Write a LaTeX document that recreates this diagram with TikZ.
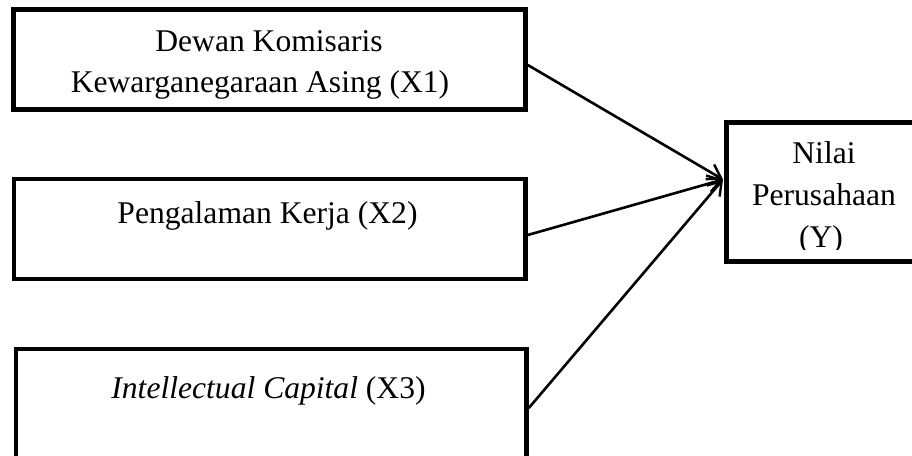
\documentclass[tikz,border=0pt]{standalone}
\usepackage{fontspec}
\setmainfont{Liberation Serif}
\usetikzlibrary{arrows.meta}
\tikzset{
  box/.style={draw=black, line width=4.6pt, rectangle, inner sep=0pt, outer sep=0pt},
  lbl/.style={anchor=base, inner sep=0pt, font=\fontsize{31.6}{41}\selectfont},
  conn/.style={line width=2.6pt, -{Straight Barb[length=13pt,width=17pt,line width=2.4pt]}}
}
\begin{document}
\begin{tikzpicture}[x=1pt,y=-1pt]
\useasboundingbox[fill=white] (0,0) rectangle (912,455);
\clip (0,0) rectangle (912,455);
% boxes
\node[box, minimum width=512pt, minimum height=100pt] (b1) at (269.5,59.5) {};
\node[box, minimum width=511.5pt, minimum height=100pt] (b2) at (269.75,229) {};
\node[box, minimum width=510.5pt, minimum height=112pt] (b3) at (271.25,405) {};
\node[box, minimum width=240pt, minimum height=139pt] (yb) at (846.5,192) {};
% texts
\node[lbl] (t1a) at (269,51) {Dewan Komisaris};
\node[lbl] (t1b) at (260,92) {Kewarganegaraan Asing (X1)};
\node[lbl] (t2) at (267.5,223) {Pengalaman Kerja (X2)};
\node[lbl] (t3) at (268.5,398) {\textit{Intellectual Capital} (X3)};
\begin{scope}
\clip (728.8,124.8) rectangle (912,249);
\node[lbl] (ya) at (824,163) {Nilai};
\node[lbl] (yt) at (824,205) {Perusahaan};
\node[lbl] (yc) at (821,247) {(Y)};
\end{scope}
% connectors
\coordinate (tip) at (723,179.5);
\draw[conn] ([yshift=-5.5pt]b1.east) ++(2.3,0) -- (tip);
\draw[conn] ([yshift=-6pt]b2.east) ++(2.3,0) -- (tip);
\draw[conn] ([yshift=-3pt]b3.east) ++(2.3,0) -- (tip);
\end{tikzpicture}
\end{document}
